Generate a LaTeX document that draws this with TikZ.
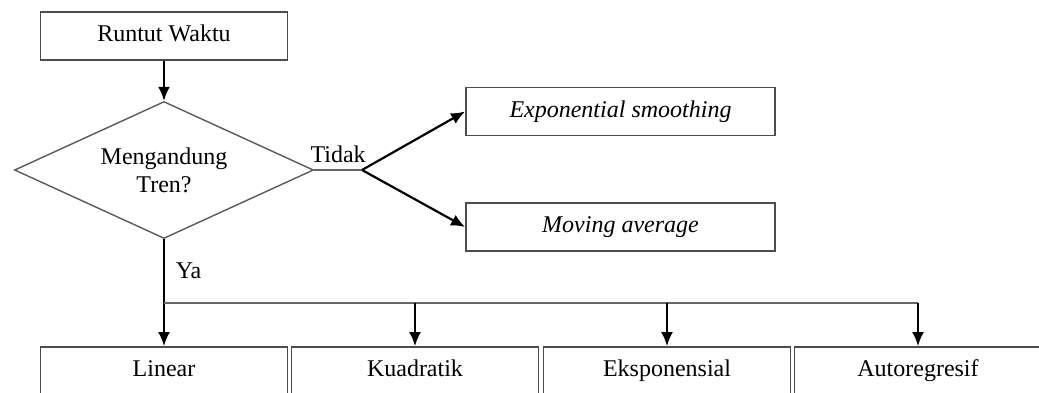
\documentclass[tikz,border=0pt]{standalone}
\usepackage{fontspec}
\setmainfont{Liberation Serif}
\usetikzlibrary{shapes.geometric,arrows.meta}

\begin{document}
\begin{tikzpicture}[
    x=0.5pt, y=-0.5pt,
    every node/.style={font=\fontsize{12}{14}\selectfont},
    proc/.style={rectangle, draw=black!70, line width=0.9pt, minimum width=123.5pt, minimum height=24pt,
        inner sep=0pt, text height=1.5ex, text depth=0.25ex},
    wide/.style={proc, minimum width=154.5pt, font=\fontsize{12}{14}\selectfont\itshape},
    choice/.style={diamond, aspect=2.2, draw=black!65, line width=0.7pt, minimum width=149.5pt, minimum height=68.5pt,
        inner sep=0pt, align=center},
    flow/.style={draw, line width=1.1pt, -{Latex[length=7pt,width=6pt]}},
    link/.style={draw=black!60, line width=0.8pt}
]
\useasboundingbox (0,0) rectangle (1039,392);

\node[proc] (runtut) at (164,36) {Runtut Waktu};
\node[choice] (tren) at (164,170) {Mengandung\\Tren?};
\node[wide] (expo) at (620.5,111.5) {Exponential smoothing};
\node[wide] (moving) at (620.5,227) {Moving average};
\node[proc] (linear) at (164,371) {Linear};
\node[proc] (kuad) at (415,371) {Kuadratik};
\node[proc] (ekspo) at (667,371) {Eksponensial};
\node[proc] (autoreg) at (918,371) {Autoregresif};

\coordinate (cabang) at (362,170);
\coordinate (bagi) at (164,303);
\coordinate (ujung) at (918,303);

\draw[flow] (runtut) -- (tren);
\draw[link] (tren.east) -- node[above] {Tidak} (cabang);
\draw[flow] (cabang) -- (expo.west);
\draw[flow] (cabang) -- (moving.west);
\draw[line width=1.1pt] (tren.south) -- node[right, xshift=2pt] {Ya} (bagi);
\draw[flow] (bagi) -- (linear);
\draw[link] (bagi) -- (ujung);
\foreach \n in {kuad, ekspo, autoreg}
    \draw[flow] (bagi -| \n) -- (\n);
\end{tikzpicture}
\end{document}
